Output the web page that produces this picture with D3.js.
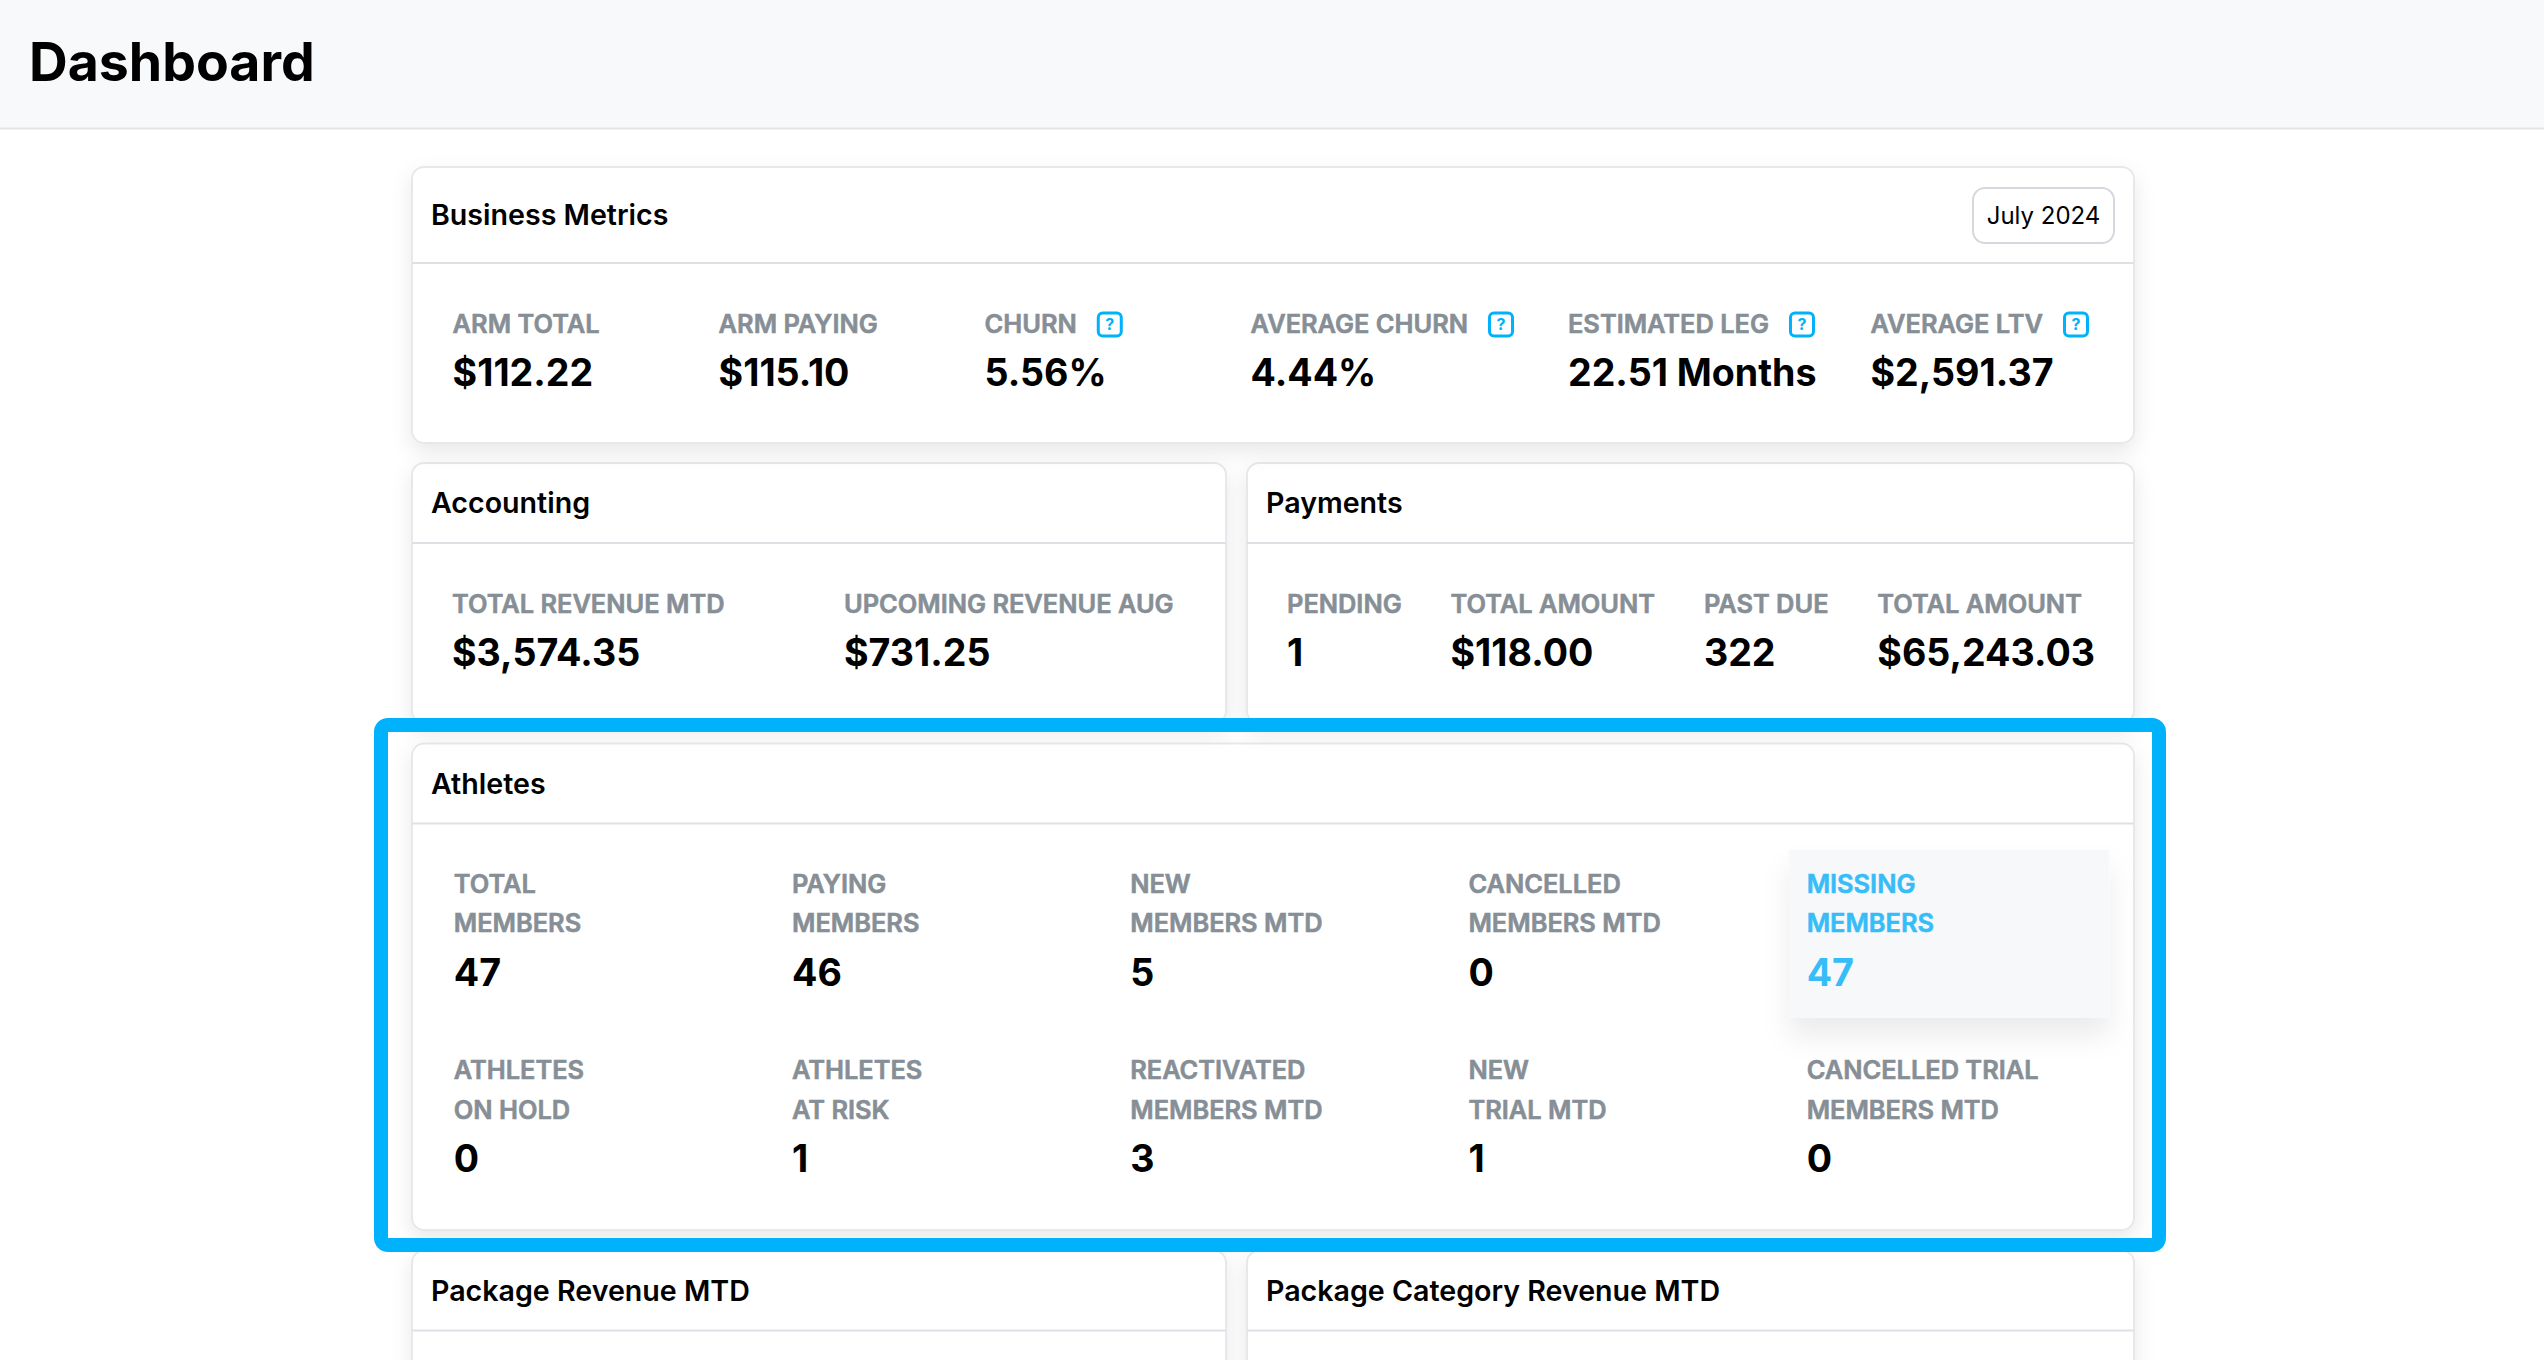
<!DOCTYPE html>
<html>
<head>
<meta charset="utf-8">
<script src="https://cdn.jsdelivr.net/npm/d3@7"></script>
<style>
    html, body { margin: 0; padding: 0; background: #ffffff; }
    svg { display: block; font-family: Inter, "Noto Sans", sans-serif; }
</style>
</head>
<body>
<div id="dashboard"></div>
<script>
// business metrics
const metricLabels = ["ARM TOTAL", "ARM PAYING", "CHURN", "AVERAGE CHURN", "ESTIMATED LEG", "AVERAGE LTV"];
const metricValues = ["$112.22", "$115.10", "5.56%", "4.44%", "22.51 Months", "$2,591.37"];
const metricHelp = [false, false, true, true, true, true];
const metricMonth = "July 2024";

// accounting + payments
const accountingLabels = ["TOTAL REVENUE MTD", "UPCOMING REVENUE AUG"];
const accountingValues = ["$3,574.35", "$731.25"];
const paymentLabels = ["PENDING", "TOTAL AMOUNT", "PAST DUE", "TOTAL AMOUNT"];
const paymentValues = ["1", "$118.00", "322", "$65,243.03"];

// athletes (two rows of five)
const athleteLabels = [
    ["TOTAL", "MEMBERS"], ["PAYING", "MEMBERS"], ["NEW", "MEMBERS MTD"], ["CANCELLED", "MEMBERS MTD"], ["MISSING", "MEMBERS"],
    ["ATHLETES", "ON HOLD"], ["ATHLETES", "AT RISK"], ["REACTIVATED", "MEMBERS MTD"], ["NEW", "TRIAL MTD"], ["CANCELLED TRIAL", "MEMBERS MTD"]
];
const athleteValues = [47, 46, 5, 0, 47, 0, 1, 3, 1, 0];
const athleteHighlight = ["MISSING MEMBERS"];

const cardTitles = ["Business Metrics", "Accounting", "Payments", "Athletes", "Package Revenue MTD", "Package Category Revenue MTD"];

class Dashboard {
    constructor(parentElement) {
        this.parentElement = parentElement;
        this.initVis();
    }

    initVis() {
        let vis = this;

        // page is laid out in css px, photographed at 2x
        vis.width = 1272;
        vis.height = 680;

        vis.svg = d3.select("#" + vis.parentElement).append("svg")
            .attr("width", vis.width * 2)
            .attr("height", vis.height * 2)
            .attr("viewBox", `0 0 ${vis.width} ${vis.height}`);

        let defs = vis.svg.append("defs");
        defs.append("filter")
            .attr("id", "cardShadow")
            .attr("x", "-10%").attr("y", "-30%").attr("width", "120%").attr("height", "160%")
            .append("feDropShadow")
            .attr("dx", 0).attr("dy", 4).attr("stdDeviation", 5)
            .attr("flood-color", "#000").attr("flood-opacity", 0.09);
        defs.append("filter")
            .attr("id", "boxShadow")
            .attr("x", "-20%").attr("y", "-30%").attr("width", "140%").attr("height", "190%")
            .append("feDropShadow")
            .attr("dx", 0).attr("dy", 9).attr("stdDeviation", 7)
            .attr("flood-color", "#000").attr("flood-opacity", 0.08);

        vis.colors = {
            label: "#868e96",
            value: "#000000",
            border: "#e6e9ec",
            divider: "#dde1e5",
            blue: "#00b1fb",
            sky: "#36bdf8"
        };

        vis.fonts = {page: 26.8, title: 14.3, label: 12.7, value: 18.8};

        // card boxes
        vis.cards = {
            business:   {x: 206,   y: 83.5,  w: 861,   h: 138,   head: 48},
            accounting: {x: 206,   y: 231.5, w: 407,   h: 130,   head: 40},
            payments:   {x: 623.5, y: 231.5, w: 443.5, h: 130,   head: 40},
            athletes:   {x: 206,   y: 371.8, w: 861,   h: 243.2, head: 40},
            pkg:        {x: 206,   y: 625.3, w: 407,   h: 200,   head: 40},
            pkgCat:     {x: 623.5, y: 625.3, w: 443.5, h: 200,   head: 40}
        };

        // athletes grid
        vis.colScale = d3.scaleBand()
            .domain(d3.range(5))
            .range([218.2, 1054.6])
            .paddingInner(0.054);
        vis.rowScale = d3.scalePoint()
            .domain([0, 1])
            .range([446.4, 539.6]);

        vis.updateVis();
    }

    drawCard(key, title) {
        let vis = this;
        let c = vis.cards[key];
        let g = vis.svg.append("g").attr("class", "card " + key);

        g.append("rect")
            .attr("x", c.x).attr("y", c.y)
            .attr("width", c.w).attr("height", c.h)
            .attr("rx", 6)
            .attr("fill", "#fff")
            .attr("stroke", vis.colors.border)
            .attr("stroke-width", 1)
            .attr("filter", "url(#cardShadow)");

        g.append("line")
            .attr("x1", c.x).attr("x2", c.x + c.w)
            .attr("y1", c.y + c.head).attr("y2", c.y + c.head)
            .attr("stroke", vis.colors.divider);

        g.append("text")
            .attr("x", c.x + 9.5)
            .attr("y", c.y + c.head / 2 + 5)
            .attr("font-size", vis.fonts.title)
            .attr("font-weight", 600)
            .attr("fill", "#000")
            .text(title);

        return g;
    }

    // small caps labels, slightly heavier than plain semibold
    labelText(g, x, y, color) {
        let vis = this;
        return g.append("text")
            .attr("x", x).attr("y", y)
            .attr("font-size", vis.fonts.label)
            .attr("font-weight", 600)
            .attr("fill", color)
            .attr("stroke", color)
            .attr("stroke-width", 0.3);
    }

    // labels + values laid out left to right
    drawMetrics(g, x0, baseline, labels, values, help, minW, gap) {
        let vis = this;
        let x = x0;
        labels.forEach((lab, i) => {
            let t = vis.labelText(g, x, baseline, vis.colors.label).text(lab);
            let w = t.node().getComputedTextLength();

            if (help && help[i]) {
                let ix = x + w + 10;
                g.append("rect")
                    .attr("x", ix + 0.75).attr("y", baseline - 10)
                    .attr("width", 11.5).attr("height", 11.5)
                    .attr("rx", 2.2)
                    .attr("fill", "none")
                    .attr("stroke", vis.colors.blue)
                    .attr("stroke-width", 1.5);
                g.append("text")
                    .attr("x", ix + 6.5).attr("y", baseline - 1.4)
                    .attr("text-anchor", "middle")
                    .attr("font-size", 8)
                    .attr("font-weight", 700)
                    .attr("fill", vis.colors.blue)
                    .text("?");
                w = w + 10 + 13;
            }

            let v = g.append("text")
                .attr("x", x).attr("y", baseline + 26.6)
                .attr("font-size", vis.fonts.value)
                .attr("font-weight", 700)
                .attr("fill", vis.colors.value)
                .text(values[i]);
            w = Math.max(w, v.node().getComputedTextLength(), minW);
            x += w + gap;
        });
    }

    updateVis() {
        let vis = this;
        let c = vis.cards;

        // header bar
        vis.svg.append("rect")
            .attr("x", 0).attr("y", 0)
            .attr("width", vis.width).attr("height", 64)
            .attr("fill", "#f8f9fa");
        vis.svg.append("line")
            .attr("x1", 0).attr("x2", vis.width)
            .attr("y1", 64.25).attr("y2", 64.25)
            .attr("stroke", "#e2e5e8");
        vis.svg.append("text")
            .attr("x", 14.5).attr("y", 40.5)
            .attr("font-size", vis.fonts.page)
            .attr("font-weight", 700)
            .attr("fill", "#000")
            .text("Dashboard");

        // lower cards first so the shadows of the upper ones fall over them
        vis.drawCard("pkg", cardTitles[4]);
        vis.drawCard("pkgCat", cardTitles[5]);

        let ath = vis.drawCard("athletes", cardTitles[3]);
        athleteLabels.forEach((lines, i) => {
            let col = i % 5, row = Math.floor(i / 5);
            let x = vis.colScale(col);
            let y = vis.rowScale(row);
            let hl = athleteHighlight.includes(lines.join(" "));

            if (hl) {
                ath.append("rect")
                    .attr("x", x).attr("y", y - 21.4)
                    .attr("width", vis.colScale.bandwidth())
                    .attr("height", 83.8)
                    .attr("fill", "#f7f8fa")
                    .attr("filter", "url(#boxShadow)");
            }

            let t = vis.labelText(ath, x + 8.7, y, hl ? vis.colors.sky : vis.colors.label);
            t.selectAll("tspan")
                .data(lines)
                .join("tspan")
                .attr("x", x + 8.7)
                .attr("dy", (d, j) => j === 0 ? 0 : 19.8)
                .text(d => d);

            ath.append("text")
                .attr("x", x + 8.7).attr("y", y + 19.8 + 26.6)
                .attr("font-size", vis.fonts.value)
                .attr("font-weight", 700)
                .attr("fill", hl ? vis.colors.sky : vis.colors.value)
                .text(athleteValues[i]);
        });

        let acc = vis.drawCard("accounting", cardTitles[1]);
        vis.drawMetrics(acc, c.accounting.x + 20, c.accounting.y + c.accounting.head + 35,
            accountingLabels, accountingValues, null, 171, 25);

        let pay = vis.drawCard("payments", cardTitles[2]);
        vis.drawMetrics(pay, c.payments.x + 20, c.payments.y + c.payments.head + 35,
            paymentLabels, paymentValues, null, 0, 24.4);

        let bm = vis.drawCard("business", cardTitles[0]);
        vis.drawMetrics(bm, c.business.x + 20.3, c.business.y + c.business.head + 35,
            metricLabels, metricValues, metricHelp, 106, 27);

        // month picker
        bm.append("rect")
            .attr("x", 986.5).attr("y", 94)
            .attr("width", 70.5).attr("height", 27.5)
            .attr("rx", 6)
            .attr("fill", "#fff")
            .attr("stroke", "#d5d9dd");
        bm.append("text")
            .attr("x", 986.5 + 35.25).attr("y", 111.8)
            .attr("text-anchor", "middle")
            .attr("font-size", 12)
            .attr("fill", "#000")
            .text(metricMonth);

        // blue highlight frame round the athletes card
        vis.svg.append("rect")
            .attr("x", 190.5).attr("y", 362.5)
            .attr("width", 889).attr("height", 260)
            .attr("rx", 3.5)
            .attr("fill", "none")
            .attr("stroke", vis.colors.blue)
            .attr("stroke-width", 7);
    }
}

new Dashboard("dashboard");
</script>
</body>
</html>
